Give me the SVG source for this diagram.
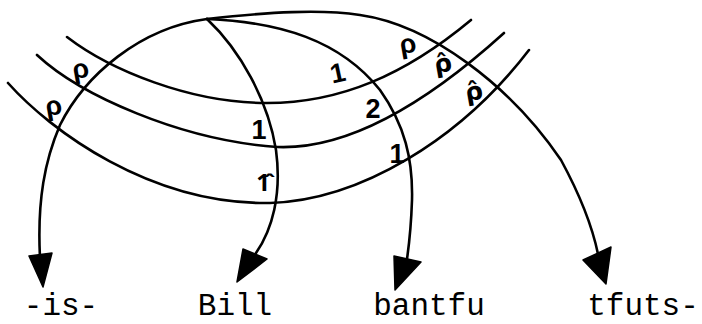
<svg xmlns="http://www.w3.org/2000/svg" width="702" height="324" viewBox="0 0 702 324">
  <style>
    .ln { fill: none; stroke: #000; stroke-width: 2.6; stroke-linecap: round; stroke-linejoin: round; }
    .ah { fill: #000; stroke: #000; stroke-width: 1.5; stroke-linejoin: round; }
    .word { font-family: "Liberation Mono", "Courier New", monospace; font-size: 31px; fill: #000; text-anchor: middle; }
    .lab { font-family: "Liberation Sans", Arial, sans-serif; font-size: 27px; font-weight: bold; fill: #000; text-anchor: middle; }
    .hat { font-family: "DejaVu Sans", sans-serif; font-size: 25px; font-weight: bold; fill: #000; text-anchor: middle; }
    .hat1 { font-family: "Noto Sans", sans-serif; font-size: 24px; font-weight: bold; fill: #000; text-anchor: middle; }
  </style>
  <rect width="702" height="324" fill="#fff"/>

  <g id="connectors">
    <!-- arcs to words -->
    <path class="ln" d="M207,19 C140,28 85,75 60,125 C45,160 37,200 40,258"/>
    <polygon class="ah" points="29,256 52,253 43,287"/>
    <path class="ln" d="M207,19 C240,50 268,100 276,150 C282,195 272,230 256,253"/>
    <polygon class="ah" points="243,249 267,259 237,282"/>
    <path class="ln" d="M207,19 C280,22 340,40 380,90 C405,125 413,160 412,200 C411,230 409,245 407,259"/>
    <polygon class="ah" points="394,256 421,262 395,290"/>
    <path class="ln" d="M207,19 C270,12 320,9 360,15 C430,25 510,85 561,160 C580,195 592,225 598,254"/>
    <polygon class="ah" points="583,260 611,247 606,284"/>
    <!-- bands -->
    <path class="ln" d="M67,37 C110,70 190,103 267,103 C340,103 405,75 471,20"/>
    <path class="ln" d="M37,55 C80,95 180,140 277,147 C350,150 430,100 504,33"/>
    <path class="ln" d="M8,83 C50,130 150,205 270,203 C360,200 460,140 529,50"/>
  </g>

  <g id="labels">
    <text class="lab" x="81" y="78" transform="rotate(-10 81 72)">ρ</text>
    <text class="lab" x="54" y="115" transform="rotate(-10 54 109)">ρ</text>
    <text class="lab" x="338" y="82" transform="rotate(-12 338 74)">1</text>
    <text class="lab" x="259" y="139">1</text>
    <text class="hat1" x="263" y="191">1̂</text>
    <text class="lab" x="373" y="118">2</text>
    <text class="lab" x="397" y="163">1</text>
    <text class="lab" x="408" y="53" transform="rotate(-10 408 46)">ρ</text>
    <text class="hat" x="443" y="72" transform="rotate(-10 443 64)">ρ̂</text>
    <text class="hat" x="474" y="100" transform="rotate(-10 474 92)">ρ̂</text>
  </g>

  <g id="node-is"><text class="word" x="61" y="315">-is-</text></g>
  <g id="node-bill"><text class="word" x="235" y="315">Bill</text></g>
  <g id="node-bantfu"><text class="word" x="429" y="315">bantfu</text></g>
  <g id="node-tfuts"><text class="word" x="643" y="315">tfuts-</text></g>
</svg>
